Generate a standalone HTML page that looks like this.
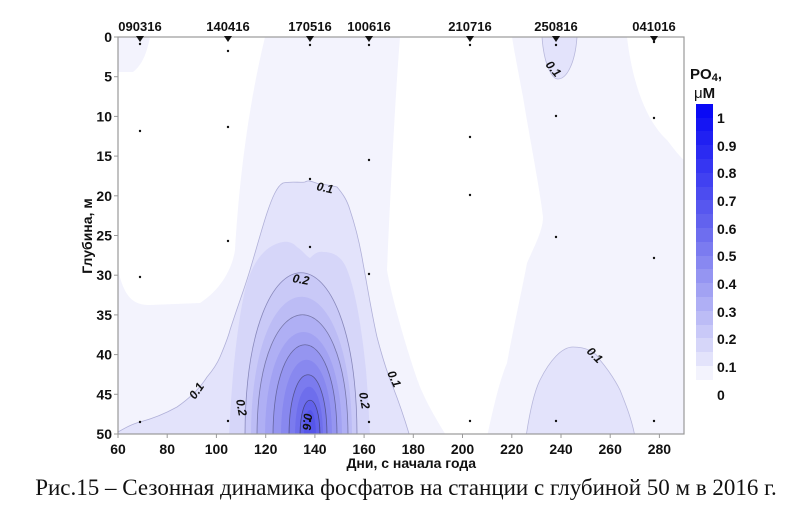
<!DOCTYPE html>
<html><head><meta charset="utf-8"><style>
html,body{margin:0;padding:0;background:#fff}
svg{display:block}
.t{font-family:"Liberation Sans",Arial,sans-serif;font-weight:bold;font-size:14px;fill:#111}
.s{font-size:13px}
.cl{font-family:"Liberation Sans",Arial,sans-serif;font-weight:bold;font-style:italic;font-size:12px;fill:#111}
</style></head><body>
<svg width="799" height="506" viewBox="0 0 799 506" xmlns="http://www.w3.org/2000/svg">
<defs><clipPath id="pc"><rect x="118" y="37" width="566" height="397"/></clipPath></defs>
<g clip-path="url(#pc)">
<rect x="118" y="37" width="566" height="397" fill="#fff"/>
<path d="M118,37 L150,37 C147,52 143,64 133,72 L118,72 Z" fill="#f3f3fd"/>
<path d="M265,37 L400,37 C395,100 390,200 387,270 C392,300 410,360 420,387 C430,410 440,425 447,437 L118,437 L118,270 C125,300 135,305 150,305 L200,303 C220,290 232,270 235,250 C238,200 245,120 265,37 Z" fill="#f3f3fd"/>
<path d="M512,37 L627,37 C632,80 645,120 667,140 C675,150 680,158 690,165 L690,437 L487,437 C495,400 500,380 507,363 C515,320 522,290 527,263 C535,245 543,230 543,217 C540,190 530,140 523,97 C518,70 514,50 512,37 Z" fill="#f3f3fd"/>
<path d="M542,37 C544,65 552,79 558,79 C566,79 575,65 577,37 Z" fill="#e3e3fb" stroke="#b8b8dc" stroke-width="0.8"/>
<path d="M526,437 C530,410 535,390 540,380 C550,360 562,347 573,347 C586,347 596,352 600,360 C610,372 616,382 620,390 C626,405 632,420 635,437 Z" fill="#e3e3fb" stroke="#b8b8dc" stroke-width="0.8"/>
<path d="M118,432 C125,428 132,424 140,422 C155,418 168,412 177,407 C190,398 200,388 207,377 C213,370 217,364 220,357 C225,345 228,338 230,330 C238,305 244,290 250,270 C256,250 262,228 267,213 C272,198 277,186 283,183 C292,181 300,183 305,182 C310,179 313,183 320,184 C328,185 333,186 337,187 C343,194 347,200 350,210 C356,228 360,245 363,263 C368,290 372,315 377,337 C383,360 388,375 393,387 C400,405 405,420 410,437 L118,437 Z" fill="#e3e3fb" stroke="#b0b0d8" stroke-width="0.8"/>
<path d="M229,437 C231,390 236,330 245,290 C252,262 265,245 283,242 C290,241 294,244 297,247 C302,250 306,256 310,258 C314,254 318,251 323,252 C333,252 340,256 345,265 C355,285 362,330 366,370 C368,395 369,415 370,437 Z" fill="#d6d6f9"/>
<path d="M245,437 C245,218 357,218 357,437 Z" fill="#c9c9f7" stroke="#8888bb" stroke-width="0.8"/>
<path d="M251,437 C251,250 352,250 352,437 Z" fill="#bcbcf5"/>
<path d="M257,437 C257,274 348,274 348,437 Z" fill="#afaff4" stroke="#7777aa" stroke-width="0.8"/>
<path d="M265,437 C265,297 342,297 342,437 Z" fill="#a2a2f2"/>
<path d="M273,437 C273,314 337,314 337,437 Z" fill="#9595f0" stroke="#6666a0" stroke-width="0.8"/>
<path d="M281,437 C281,334 332,334 332,437 Z" fill="#8888ef"/>
<path d="M289,437 C289,354 327,354 327,437 Z" fill="#7b7bee" stroke="#555590" stroke-width="0.8"/>
<path d="M295,437 C295,370 323,370 323,437 Z" fill="#6e6eec"/>
<path d="M300,437 C300,388 320,388 320,437 Z" fill="#6262eb" stroke="#444480" stroke-width="0.8"/>
<path d="M304,437 C304,401 316,401 316,437 Z" fill="#5656ea"/>
</g>
<text class="cl" transform="translate(316,190) rotate(12)">0.1</text>
<text class="cl" transform="translate(292,282) rotate(10)">0.2</text>
<text class="cl" transform="translate(195,400) rotate(-55)">0.1</text>
<text class="cl" transform="translate(236,400) rotate(80)">0.2</text>
<text class="cl" transform="translate(304,413) rotate(95)">0.6</text>
<text class="cl" transform="translate(359,393) rotate(80)">0.2</text>
<text class="cl" transform="translate(387,373) rotate(65)">0.1</text>
<text class="cl" transform="translate(545,65) rotate(50)">0.1</text>
<text class="cl" transform="translate(586,352) rotate(45)">0.1</text>
<rect x="118" y="37" width="566" height="397" fill="none" stroke="#999" stroke-width="1.2"/>
<g stroke="#999" stroke-width="1">
<line x1="114" y1="37" x2="118" y2="37"/><line x1="114" y1="76.7" x2="118" y2="76.7"/><line x1="114" y1="116.4" x2="118" y2="116.4"/><line x1="114" y1="156.1" x2="118" y2="156.1"/><line x1="114" y1="195.8" x2="118" y2="195.8"/><line x1="114" y1="235.5" x2="118" y2="235.5"/><line x1="114" y1="275.2" x2="118" y2="275.2"/><line x1="114" y1="314.9" x2="118" y2="314.9"/><line x1="114" y1="354.6" x2="118" y2="354.6"/><line x1="114" y1="394.3" x2="118" y2="394.3"/><line x1="114" y1="434" x2="118" y2="434"/>
<line x1="118" y1="434" x2="118" y2="438"/><line x1="167.2" y1="434" x2="167.2" y2="438"/><line x1="216.4" y1="434" x2="216.4" y2="438"/><line x1="265.7" y1="434" x2="265.7" y2="438"/><line x1="314.9" y1="434" x2="314.9" y2="438"/><line x1="364.1" y1="434" x2="364.1" y2="438"/><line x1="413.3" y1="434" x2="413.3" y2="438"/><line x1="462.5" y1="434" x2="462.5" y2="438"/><line x1="511.8" y1="434" x2="511.8" y2="438"/><line x1="561" y1="434" x2="561" y2="438"/><line x1="610.2" y1="434" x2="610.2" y2="438"/><line x1="659.4" y1="434" x2="659.4" y2="438"/>
</g>
<g class="t" text-anchor="end">
<text x="112" y="42">0</text><text x="112" y="81.7">5</text><text x="112" y="121.4">10</text><text x="112" y="161.1">15</text><text x="112" y="200.8">20</text><text x="112" y="240.5">25</text><text x="112" y="280.2">30</text><text x="112" y="319.9">35</text><text x="112" y="359.6">40</text><text x="112" y="399.3">45</text><text x="112" y="439">50</text>
</g>
<g class="t" text-anchor="middle">
<text x="118" y="454">60</text><text x="167.2" y="454">80</text><text x="216.4" y="454">100</text><text x="265.7" y="454">120</text><text x="314.9" y="454">140</text><text x="364.1" y="454">160</text><text x="413.3" y="454">180</text><text x="462.5" y="454">200</text><text x="511.8" y="454">220</text><text x="561" y="454">240</text><text x="610.2" y="454">260</text><text x="659.4" y="454">280</text>
</g>
<g class="t s" text-anchor="middle">
<text x="140" y="31">090316</text><text x="228" y="31">140416</text><text x="310" y="31">170516</text><text x="369" y="31">100616</text><text x="470" y="31">210716</text><text x="556" y="31">250816</text><text x="654" y="31">041016</text>
</g>
<text class="t" x="476" y="468" text-anchor="end">Дни, с начала года</text>
<text class="t" transform="translate(92,236) rotate(-90)" text-anchor="middle">Глубина, м</text>
<g fill="#111">
<path d="M136,36 L144,36 L140,42 Z"/><path d="M224,36 L232,36 L228,42 Z"/><path d="M306,36 L314,36 L310,42 Z"/><path d="M365,36 L373,36 L369,42 Z"/><path d="M466,36 L474,36 L470,42 Z"/><path d="M552,36 L560,36 L556,42 Z"/><path d="M650,36 L658,36 L654,42 Z"/>
<circle cx="140" cy="44" r="1.2"/><circle cx="140" cy="131" r="1.2"/><circle cx="140" cy="277" r="1.2"/><circle cx="140" cy="422" r="1.2"/>
<circle cx="228" cy="51" r="1.2"/><circle cx="228" cy="127" r="1.2"/><circle cx="228" cy="241" r="1.2"/><circle cx="228" cy="421" r="1.2"/>
<circle cx="310" cy="45" r="1.2"/><circle cx="310" cy="179" r="1.2"/><circle cx="310" cy="247" r="1.2"/><circle cx="310" cy="421" r="1.2"/>
<circle cx="369" cy="45" r="1.2"/><circle cx="369" cy="160" r="1.2"/><circle cx="369" cy="274" r="1.2"/><circle cx="369" cy="422" r="1.2"/>
<circle cx="470" cy="45" r="1.2"/><circle cx="470" cy="137" r="1.2"/><circle cx="470" cy="195" r="1.2"/><circle cx="470" cy="421" r="1.2"/>
<circle cx="556" cy="45" r="1.2"/><circle cx="556" cy="116" r="1.2"/><circle cx="556" cy="237" r="1.2"/><circle cx="556" cy="421" r="1.2"/>
<circle cx="654" cy="42" r="1.2"/><circle cx="654" cy="118" r="1.2"/><circle cx="654" cy="258" r="1.2"/><circle cx="654" cy="421" r="1.2"/>
</g>
<text class="t" x="690" y="79" style="font-size:15px">PO<tspan style="font-size:11px" dy="2">4</tspan><tspan dy="-2">,</tspan></text>
<text class="t" x="694" y="98" style="font-size:15px"><tspan style="font-weight:normal">μ</tspan>M</text>
<g>
<rect x="696" y="104" width="17" height="14" fill="#0a0af5"/>
<rect x="696" y="118" width="17" height="14" fill="#1515f3"/>
<rect x="696" y="131" width="17" height="14" fill="#2020f2"/>
<rect x="696" y="145" width="17" height="14" fill="#2b2bf2"/>
<rect x="696" y="159" width="17" height="14" fill="#3636f2"/>
<rect x="696" y="173" width="17" height="14" fill="#4141f1"/>
<rect x="696" y="187" width="17" height="14" fill="#4c4cf0"/>
<rect x="696" y="200" width="17" height="14" fill="#5757ef"/>
<rect x="696" y="214" width="17" height="14" fill="#6262ee"/>
<rect x="696" y="228" width="17" height="14" fill="#6e6eef"/>
<rect x="696" y="242" width="17" height="14" fill="#7b7bf0"/>
<rect x="696" y="256" width="17" height="14" fill="#8888f1"/>
<rect x="696" y="269" width="17" height="14" fill="#9595f2"/>
<rect x="696" y="283" width="17" height="14" fill="#a2a2f3"/>
<rect x="696" y="297" width="17" height="14" fill="#afaff5"/>
<rect x="696" y="311" width="17" height="14" fill="#bcbcf6"/>
<rect x="696" y="325" width="17" height="14" fill="#c9c9f8"/>
<rect x="696" y="338" width="17" height="14" fill="#d6d6f9"/>
<rect x="696" y="352" width="17" height="14" fill="#e3e3fb"/>
<rect x="696" y="366" width="17" height="14" fill="#f3f3fd"/>
</g>
<g class="t">
<text x="717" y="123">1</text><text x="717" y="151">0.9</text><text x="717" y="178">0.8</text><text x="717" y="206">0.7</text><text x="717" y="234">0.6</text><text x="717" y="261">0.5</text><text x="717" y="289">0.4</text><text x="717" y="317">0.3</text><text x="717" y="344">0.2</text><text x="717" y="372">0.1</text><text x="717" y="400">0</text>
</g>
<text x="406" y="495" text-anchor="middle" style="font-family:'Liberation Serif','Times New Roman',serif;font-size:23px;fill:#111">Рис.15 – Сезонная динамика фосфатов на станции с глубиной 50 м в 2016 г.</text>
</svg>
</body></html>
